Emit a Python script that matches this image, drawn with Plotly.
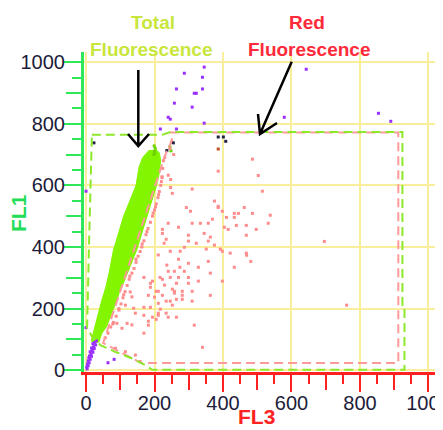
import plotly.graph_objects as go

# ---------------- data ----------------
# dense "total fluorescence" population outline (FL3, FL1)
cloud_x = [185, 165, 155, 146, 128, 109, 95, 80, 68, 58, 46, 35, 26, 20, 15,
           25, 38,
           46, 60, 75, 90, 100, 110, 128, 148, 163, 177, 192, 206, 214, 218, 214, 205]
cloud_y = [715, 690, 660, 600, 550, 498, 445, 390, 320, 270, 227, 180, 141, 115, 95,
           88, 92,
           120, 141, 185, 227, 262, 285, 335, 390, 445, 498, 550, 600, 640, 682, 705, 716]
stem_x = [198, 200, 202, 199, 201, 245, 250, 248]
stem_y = [700, 710, 720, 728, 705, 725, 740, 712]

# red fluorescence events
pink_x = [486, 386, 503, 240, 247, 310, 247, 515, 252, 375, 386, 386, 462, 293, 305, 398, 433, 445,
          486, 538, 410, 433, 369, 310, 334, 357, 240, 532, 439, 468, 270, 404, 415, 497, 223, 223,
          299, 345, 468, 234, 363, 299, 357, 228, 322, 375, 351, 287, 246, 275, 392, 398, 421, 468,
          211, 469, 481, 270, 357, 299, 236, 274, 328, 433, 240, 258, 287, 363, 169, 216, 223, 246,
          270, 299, 194, 188, 264, 299, 328, 398, 229, 188, 252, 258, 258, 281, 310, 205, 211, 182,
          223, 281, 363, 200, 264, 281, 234, 246, 310, 211, 252, 169, 188, 217, 234, 211, 211, 169,
          194, 240, 264, 205, 182, 182, 316, 169, 340, 696, 761,
          129, 134, 115, 139, 144, 90, 120, 134, 105, 86, 115, 144, 158,
          226, 224, 222, 218, 214, 210, 205, 200, 194, 188, 181, 175, 169, 163, 158, 152, 146, 140,
          134, 126, 120, 114, 108, 102, 96, 88, 80, 72, 64, 56,
          230, 220, 212, 203, 196, 178, 164, 146, 128, 110, 96, 78, 245, 250, 256, 222]
pink_y = [685, 646, 632, 633, 619, 588, 593, 581, 574, 549, 532, 528, 528, 528, 516, 516, 509, 509,
          509, 503, 496, 496, 490, 477, 477, 477, 477, 477, 470, 470, 464, 464, 457, 457, 457, 444,
          438, 444, 438, 425, 432, 419, 419, 412, 412, 406, 393, 399, 386, 386, 393, 386, 380, 380,
          374, 373, 353, 360, 353, 347, 341, 334, 334, 334, 321, 321, 321, 315, 301, 301, 295, 301,
          301, 301, 289, 282, 282, 282, 289, 289, 276, 269, 263, 256, 250, 256, 256, 256, 256, 243,
          243, 243, 243, 237, 230, 230, 224, 224, 224, 217, 211, 204, 204, 198, 185, 185, 178, 178,
          172, 172, 172, 165, 159, 146, 146, 120, 74, 418, 211,
          254, 238, 211, 201, 185, 152, 152, 147, 136, 71, 60, 49, 28,
          680, 655, 625, 600, 580, 560, 540, 520, 500, 480, 460, 440, 420, 400, 385, 370, 350, 330,
          315, 295, 275, 255, 235, 215, 195, 175, 155, 140, 120, 105,
          690, 612, 570, 530, 510, 450, 410, 360, 305, 245, 200, 150, 720, 740, 700, 628]

# other events
purple_x = [345, 287, 340, 264, 340, 316, 322, 258, 310, 240, 246, 345, 217, 264, 643, 579, 854, 890,
            0, 0, 64, 82,
            30, 25, 20, 28, 22, 16, 24, 18, 12, 20, 14, 10, 16, 8, 12, 6, 9, 4, 6, 2, 3]
purple_y = [984, 964, 951, 913, 913, 899, 899, 867, 854, 821, 815, 802, 783, 783, 977, 821, 834, 808,
            581, 138, 24, 35,
            95, 90, 86, 82, 76, 72, 70, 64, 60, 58, 52, 46, 45, 40, 35, 30, 24, 20, 14, 10, 4]
dark_x = [23, 386, 401, 408, 255, 236]
dark_y = [738, 757, 757, 743, 738, 713]
brown_x = [386]
brown_y = [718]

# analysis gates
gate_green_x = [17, 222, 246, 924, 924, 930, 930, 193, 173, 135, 86, 42, 17, 3, 9, 17]
gate_green_y = [764, 764, 773, 773, 201, 201, 1, 1, 16, 38, 59, 81, 110, 136, 422, 764]
gate_red_x = [246, 912, 912, 161, 50, 231, 251, 246]
gate_red_y = [772, 772, 23, 23, 88, 698, 747, 772]

major_ticks = [0, 200, 400, 600, 800, 1000]
tick_labels = ["0", "200", "400", "600", "800", "1000"]
mid_ticks = [100, 300, 500, 700, 900]
minor_ticks = [50, 150, 250, 350, 450, 550, 650, 750, 850, 950]

# ---------------- styling ----------------
GRID = "#f8ee9c"
XCOL = "#ff2020"
YCOL = "#2fe85a"
FONT = "Liberation Sans, Arial, sans-serif"
XR = [-6, 1025]
YR = [-6, 1033]

fig = go.Figure()
fig.add_trace(go.Scatter(x=cloud_x, y=cloud_y, mode="lines", fill="toself",
                         fillcolor="#84f500", line=dict(color="#84f500", width=1),
                         hoverinfo="skip", showlegend=False))
fig.add_trace(go.Scatter(x=stem_x, y=stem_y, mode="markers",
                         marker=dict(symbol="square", size=3, color="#6fd400"),
                         showlegend=False))
fig.add_trace(go.Scatter(x=pink_x, y=pink_y, mode="markers",
                         marker=dict(symbol="square", size=3, color="#ff8c8c"),
                         showlegend=False))
fig.add_trace(go.Scatter(x=purple_x, y=purple_y, mode="markers",
                         marker=dict(symbol="square", size=3, color="#9a30ff"),
                         showlegend=False))
fig.add_trace(go.Scatter(x=dark_x, y=dark_y, mode="markers",
                         marker=dict(symbol="square", size=3, color="#222244"),
                         showlegend=False))
fig.add_trace(go.Scatter(x=brown_x, y=brown_y, mode="markers",
                         marker=dict(symbol="square", size=3, color="#c0501c"),
                         showlegend=False))
fig.add_trace(go.Scatter(x=gate_red_x, y=gate_red_y, mode="lines",
                         line=dict(color="#ff9a9a", width=2, dash="9px,5px"),
                         showlegend=False))
fig.add_trace(go.Scatter(x=gate_green_x, y=gate_green_y, mode="lines",
                         line=dict(color="#8ee82a", width=2, dash="9px,5px"),
                         showlegend=False))
# carrier for the overlay axes (long ticks at odd hundreds)
fig.add_trace(go.Scatter(x=[], y=[], xaxis="x2", yaxis="y2", showlegend=False))

tickfont = dict(family=FONT, size=20, color="#1c1c3a")

# the page body adds an 8px offset, so the figure is 8px smaller than the window
fig.update_layout(
    width=435, height=422,
    margin=dict(l=76, r=6, t=44, b=58, autoexpand=False),
    paper_bgcolor="white", plot_bgcolor="white",
    xaxis=dict(range=XR, tickmode="array", tickvals=major_ticks, ticktext=tick_labels,
               ticks="outside", ticklen=17, tickwidth=2, tickcolor=XCOL,
               showgrid=True, gridcolor=GRID, gridwidth=2, zeroline=False,
               showline=True, linecolor=XCOL, linewidth=3, tickfont=tickfont,
               automargin=False, ticklabeloverflow="allow", ticklabelstandoff=-6,
               minor=dict(tickvals=minor_ticks, ticks="outside", ticklen=9,
                          tickwidth=2, tickcolor=XCOL, showgrid=False)),
    yaxis=dict(range=YR, tickmode="array", tickvals=major_ticks, ticktext=tick_labels,
               ticks="outside", ticklen=17, tickwidth=2, tickcolor=YCOL,
               showgrid=True, gridcolor=GRID, gridwidth=2, zeroline=False,
               showline=True, linecolor=YCOL, linewidth=3, tickfont=tickfont,
               automargin=False, ticklabeloverflow="allow", ticklabelstandoff=-5,
               minor=dict(tickvals=minor_ticks, ticks="outside", ticklen=9,
                          tickwidth=2, tickcolor=YCOL, showgrid=False)),
    xaxis2=dict(range=XR, overlaying="x", anchor="y", side="bottom",
                tickmode="array", tickvals=mid_ticks, ticks="outside", ticklen=17,
                tickwidth=2, tickcolor=XCOL, showticklabels=False, showgrid=False,
                zeroline=False, showline=False, automargin=False),
    yaxis2=dict(range=YR, overlaying="y", anchor="x", side="left",
                tickmode="array", tickvals=mid_ticks, ticks="outside", ticklen=17,
                tickwidth=2, tickcolor=YCOL, showticklabels=False, showgrid=False,
                zeroline=False, showline=False, automargin=False),
    showlegend=False,
)

# page pixel -> paper helpers for the layout decorations (plot area in page pixels)
PL, PR, PT, PB = 84, 437, 52, 372
def px(x):
    return (x - PL) / (PR - PL)
def py(y):
    return (PB - y) / (PB - PT)

titlefont_g = dict(family=FONT, size=21, color="#22dd55")
titlefont_r = dict(family=FONT, size=21, color="#ff2222")
fig.add_annotation(text="<b>FL1</b>", xref="paper", yref="paper", x=px(18), y=py(213),
                   textangle=-90, showarrow=False, font=titlefont_g,
                   xanchor="center", yanchor="middle")
fig.add_annotation(text="<b>FL3</b>", xref="paper", yref="paper",
                   x=px(256), y=py(416), showarrow=False, font=titlefont_r,
                   xanchor="center", yanchor="middle")

lab_g = dict(family=FONT, size=19, color="#c8e63c")
lab_r = dict(family=FONT, size=19, color="#ff2a3a")
for txt, xx, yy, f in [("Total", 153, 22, lab_g), ("Fluorescence", 151, 50, lab_g),
                       ("Red", 307, 22, lab_r), ("Fluorescence", 309, 49, lab_r)]:
    fig.add_annotation(text="<b>%s</b>" % txt, xref="paper", yref="paper", x=px(xx), y=py(yy),
                       showarrow=False, font=f, xanchor="center", yanchor="middle")

# arrows
def arrow(tail, tip, arm1, arm2):
    path = "M %f %f L %f %f M %f %f L %f %f L %f %f" % (
        px(tail[0]), py(tail[1]), px(tip[0]), py(tip[1]),
        px(arm1[0]), py(arm1[1]), px(tip[0]), py(tip[1]), px(arm2[0]), py(arm2[1]))
    fig.add_shape(type="path", path=path, xref="paper", yref="paper",
                  line=dict(color="black", width=2.5), layer="above")

arrow((138.3, 70), (138.3, 146), (128, 134), (149, 134))
arrow((291.7, 61.7), (260, 134), (258, 114), (277, 123))

fig.write_html("out.html")
